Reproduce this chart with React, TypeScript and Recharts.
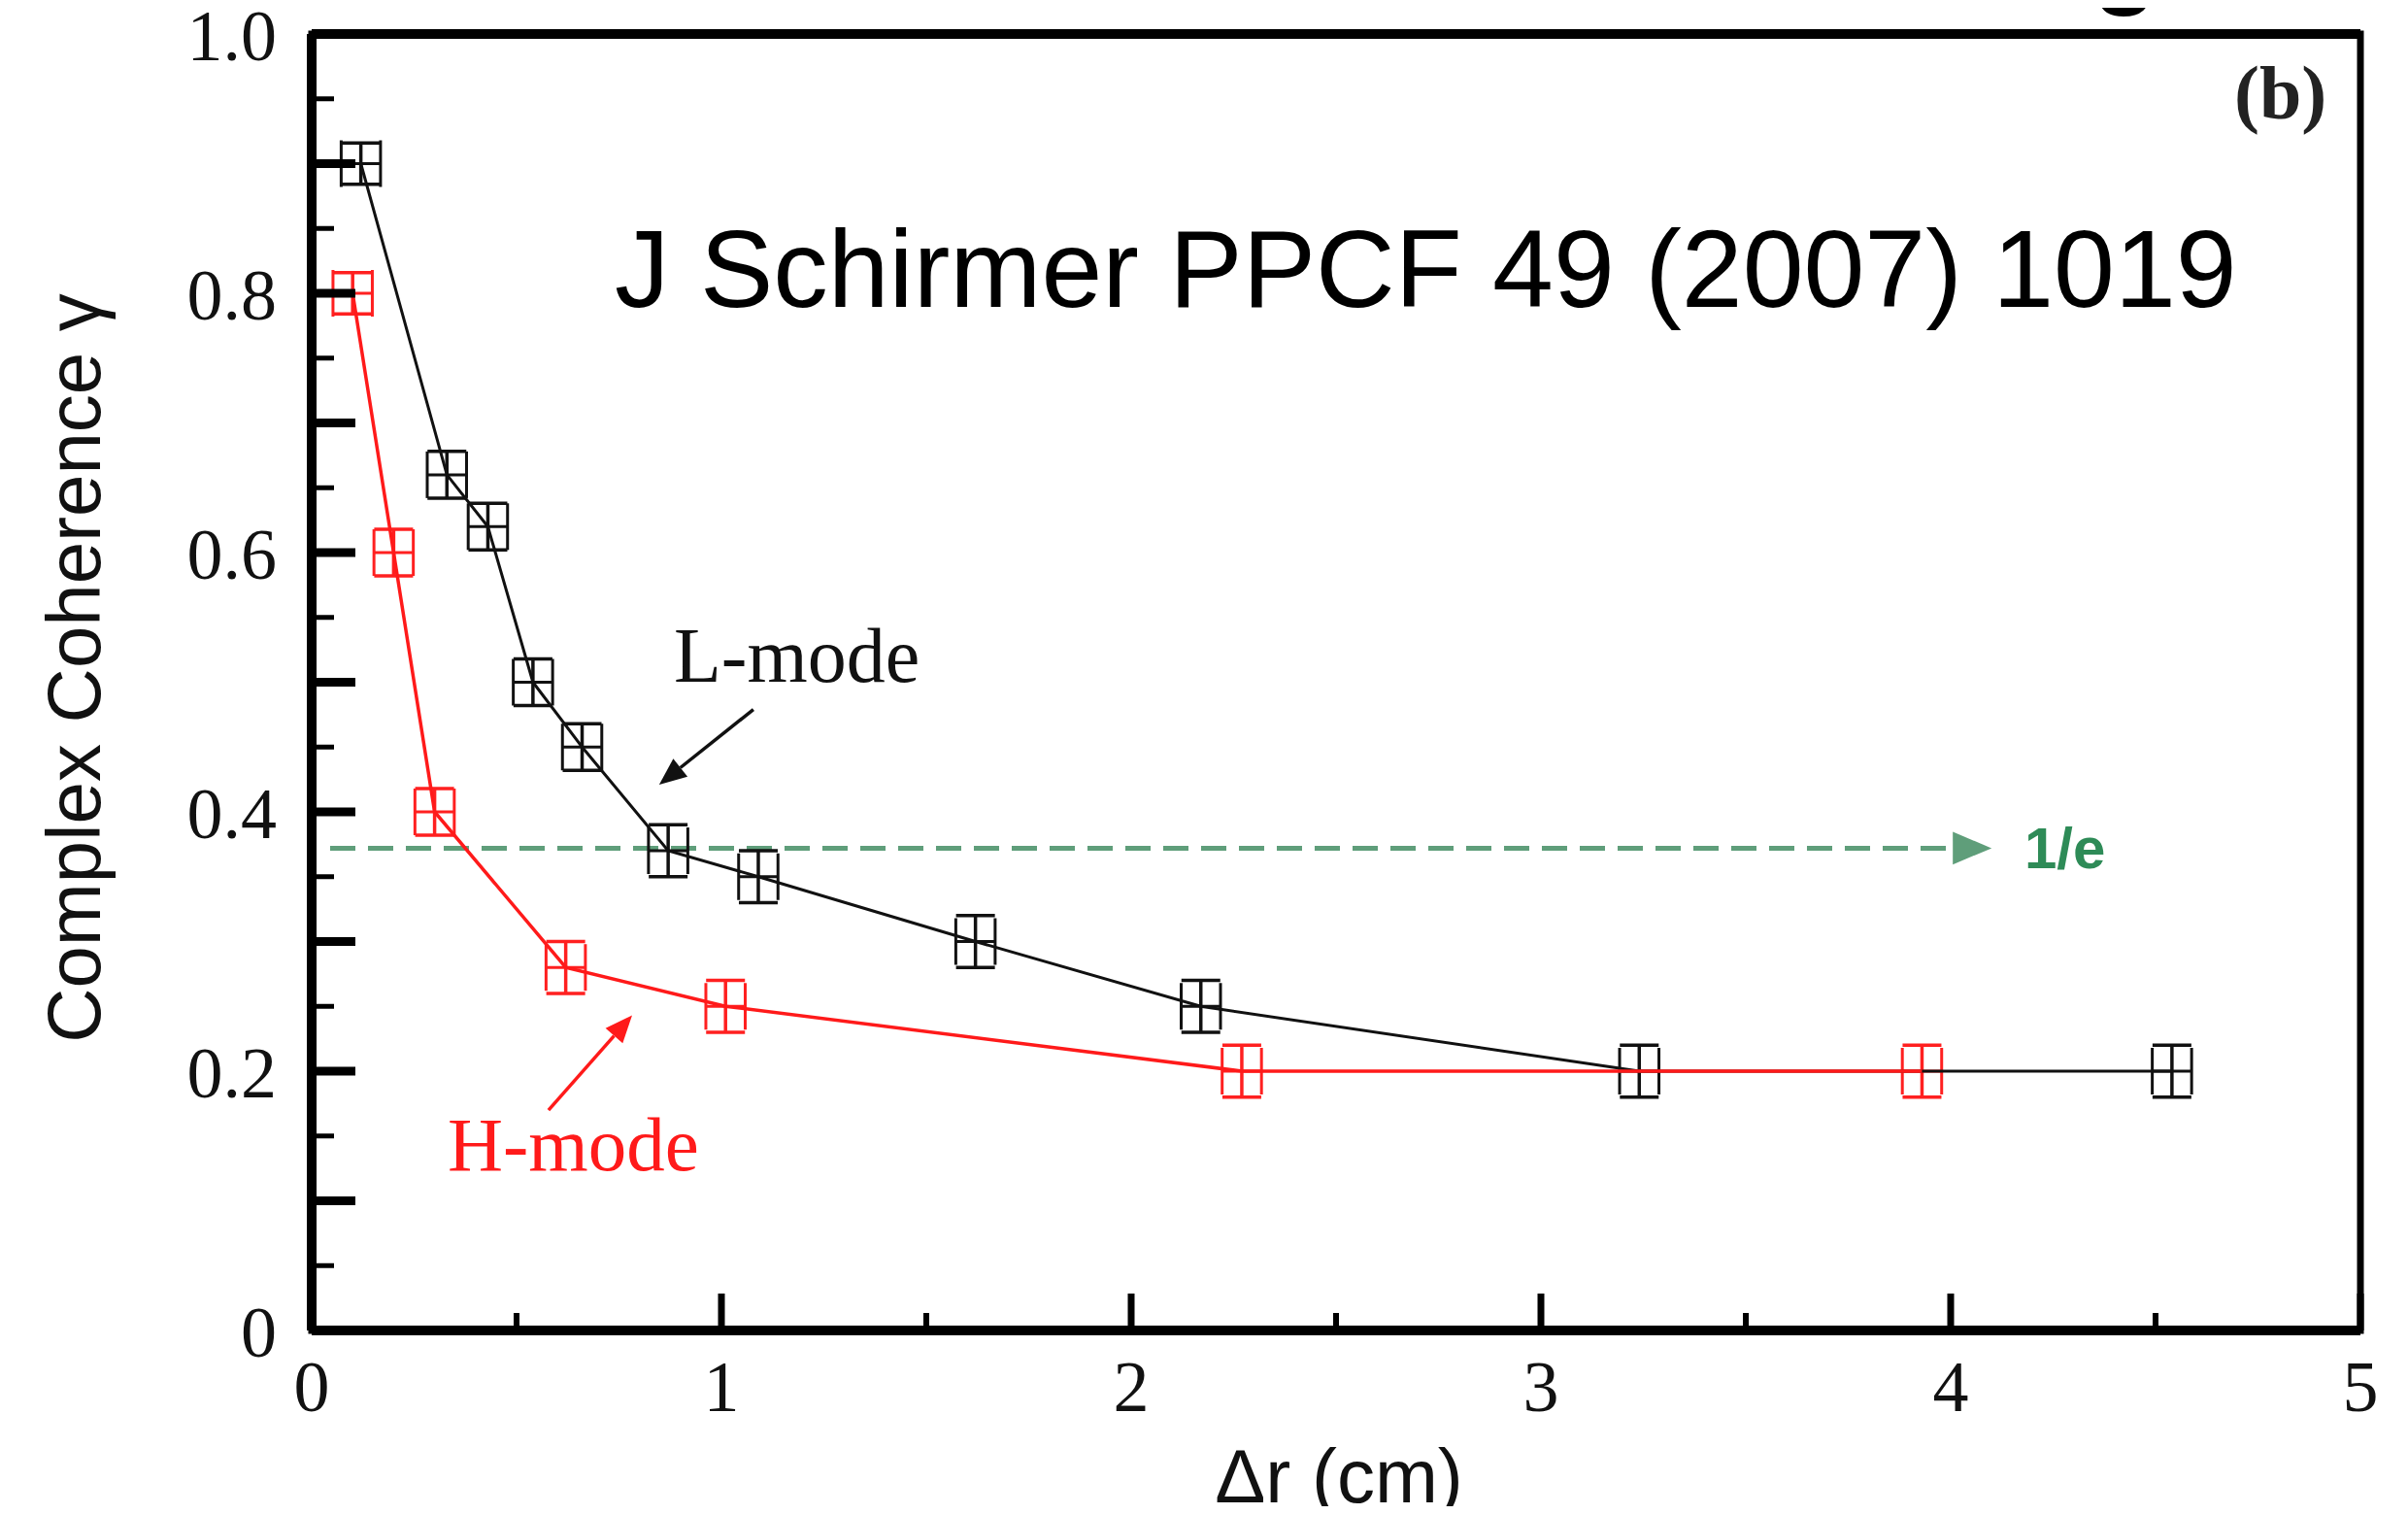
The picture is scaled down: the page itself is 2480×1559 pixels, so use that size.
import { ScatterChart, Scatter, XAxis, YAxis, ErrorBar, ReferenceLine, ReferenceArea } from 'recharts';

// L-mode (black) and H-mode (red) coherence vs separation
const lModeX = [0.12, 0.33, 0.43, 0.54, 0.66, 0.87, 1.09, 1.62, 2.17, 3.24, 4.54];
const lModeY = [0.9, 0.66, 0.62, 0.5, 0.45, 0.37, 0.35, 0.3, 0.25, 0.2, 0.2];
const lModeXErr = [0.048, 0.048, 0.048, 0.048, 0.048, 0.048, 0.048, 0.048, 0.048, 0.048, 0.048];
const lModeYErr = [0.016, 0.018, 0.018, 0.018, 0.018, 0.02, 0.02, 0.02, 0.02, 0.02, 0.02];

const hModeX = [0.1, 0.2, 0.3, 0.62, 1.01, 2.27, 3.93];
const hModeY = [0.8, 0.6, 0.4, 0.28, 0.25, 0.2, 0.2];
const hModeXErr = [0.048, 0.048, 0.048, 0.048, 0.048, 0.048, 0.048];
const hModeYErr = [0.016, 0.018, 0.018, 0.02, 0.02, 0.02, 0.02];

const oneOverE = 0.372;
const eLineStart = 0.045;
const eLineEnd = 4.1;

const xTicks = [0, 0.5, 1, 1.5, 2, 2.5, 3, 3.5, 4, 4.5, 5];
const xLabels = [0, 1, 2, 3, 4, 5];
const yTicks = [0, 0.05, 0.1, 0.15, 0.2, 0.25, 0.3, 0.35, 0.4, 0.45, 0.5, 0.55, 0.6, 0.65, 0.7, 0.75, 0.8, 0.85, 0.9, 0.95, 1];
const yLabels = [0, 0.2, 0.4, 0.6, 0.8, 1];

// annotation arrows: [tail, head]
const lArrow = [{ x: 1.078, y: 0.479 }, { x: 0.848, y: 0.421 }];
const hArrow = [{ x: 0.578, y: 0.17 }, { x: 0.782, y: 0.243 }];

const lMode = lModeX.map((x, i) => ({ x, y: lModeY[i], xErr: lModeXErr[i], yErr: lModeYErr[i] }));
const hMode = hModeX.map((x, i) => ({ x, y: hModeY[i], xErr: hModeXErr[i], yErr: hModeYErr[i] }));

const W = 2464;
const H = 1543;
const SERIF = '"Liberation Serif", "Times New Roman", serif';
const SANS = '"Liberation Sans", Arial, sans-serif';
const X_MARGIN = 30;
const Y_MARGIN = 36;

const near = (a: number, list: number[]) => list.some((b) => Math.abs(a - b) < 1e-6);

const XTick = (props: any) => {
  const { x, y, payload } = props;
  const v = payload.value;
  const base = y - X_MARGIN;
  const major = Number.isInteger(Math.round(v * 1000) / 1000);
  return (
    <g>
      <line x1={x} y1={base} x2={x} y2={base - (major ? 38 : 18)} stroke="#000" strokeWidth={major ? 7 : 6} />
      {near(v, xLabels) && (
        <text x={x} y={y} dy="0.71em" textAnchor="middle" fontFamily={SERIF} fontSize={74} fill="#111">
          {v}
        </text>
      )}
    </g>
  );
};

const YTick = (props: any) => {
  const { x, y, payload } = props;
  const v = payload.value;
  const base = x + Y_MARGIN;
  const major = Math.abs(Math.round(v * 10) - v * 10) < 1e-6;
  return (
    <g>
      <line x1={base} y1={y} x2={base + (major ? 45 : 23)} y2={y} stroke="#000" strokeWidth={major ? 9 : 5} />
      {near(v, yLabels) && (
        <text x={x} y={y} dy="0.36em" textAnchor="end" fontFamily={SERIF} fontSize={74} fill="#111">
          {v === 0 ? '0' : v.toFixed(1)}
        </text>
      )}
    </g>
  );
};

const arrowShape = (color: string, width: number, head: number, dash?: string) => (p: any) => {
  const { x1, y1, x2, y2 } = p;
  const a = Math.atan2(y2 - y1, x2 - x1);
  const bx = x2 - head * Math.cos(a);
  const by = y2 - head * Math.sin(a);
  const hw = head * 0.42;
  const pts = `${x2},${y2} ${bx + hw * Math.sin(a)},${by - hw * Math.cos(a)} ${bx - hw * Math.sin(a)},${by + hw * Math.cos(a)}`;
  return (
    <g>
      <line x1={x1} y1={y1} x2={bx} y2={by} stroke={color} strokeWidth={width} strokeDasharray={dash} />
      <polygon points={pts} fill={color} />
    </g>
  );
};

const noDot = () => <g />;

export default function App() {
  return (
    <div style={{ position: 'relative', width: W, height: H }}>
      <ScatterChart width={W} height={H} margin={{ top: 27, right: 41, left: 113, bottom: 61 }}>
        <XAxis
          type="number"
          dataKey="x"
          domain={[0, 5]}
          ticks={xTicks}
          interval={0}
          height={120}
          tickSize={0}
          tickMargin={X_MARGIN}
          tick={<XTick />}
          axisLine={{ stroke: '#000', strokeWidth: 10 }}
          allowDataOverflow
        />
        <YAxis
          type="number"
          dataKey="y"
          domain={[0, 1]}
          ticks={yTicks}
          interval={0}
          width={200}
          tickSize={0}
          tickMargin={Y_MARGIN}
          tick={<YTick />}
          axisLine={{ stroke: '#000', strokeWidth: 10 }}
          allowDataOverflow
        />
        <ReferenceArea x1={0} x2={5} y1={0} y2={1} fill="none" stroke="#000" strokeWidth={7} />
        <ReferenceLine y={1} stroke="#000" strokeWidth={10} />
        <ReferenceLine
          segment={[{ x: eLineStart, y: oneOverE }, { x: eLineEnd, y: oneOverE }]}
          shape={arrowShape('#5f9e7a', 5, 40, '26 13')}
        />
        <ReferenceLine segment={lArrow} shape={arrowShape('#111', 3.5, 28)} />
        <ReferenceLine segment={hArrow} shape={arrowShape('#ff1a1a', 3.5, 28)} />
        <Scatter
          data={lMode}
          line={{ stroke: '#111', strokeWidth: 3 }}
          lineType="joint"
          shape={noDot}
          isAnimationActive={false}
        >
          <ErrorBar dataKey="yErr" direction="y" width={20} stroke="#111" strokeWidth={3.5} />
          <ErrorBar dataKey="xErr" direction="x" width={24} stroke="#111" strokeWidth={3} />
        </Scatter>
        <Scatter
          data={hMode}
          line={{ stroke: '#ff1a1a', strokeWidth: 3.5 }}
          lineType="joint"
          shape={noDot}
          isAnimationActive={false}
        >
          <ErrorBar dataKey="yErr" direction="y" width={20} stroke="#ff2020" strokeWidth={3.5} />
          <ErrorBar dataKey="xErr" direction="x" width={24} stroke="#ff2020" strokeWidth={3} />
        </Scatter>
      </ScatterChart>
      <svg
        width={W}
        height={H}
        style={{ position: 'absolute', left: 0, top: 0, overflow: 'visible', pointerEvents: 'none' }}
      >
        <text x={2147} y={-14} fontFamily={SANS} fontWeight="bold" fontSize={110} fill="#000">g</text>
        <text x={2293} y={114} fontFamily={SERIF} fontWeight="bold" fontSize={78} fill="#222">(b)</text>
        <text x={625} y={308} fontFamily={SANS} fontSize={113} fill="#000">J Schirmer PPCF 49 (2007) 1019</text>
        <text x={686} y={694} fontFamily={SERIF} fontSize={80} fill="#111">L-mode</text>
        <text x={453} y={1197} fontFamily={SERIF} fontSize={79} fill="#ff1a1a">H-mode</text>
        <text x={2077} y={886} fontFamily={SANS} fontWeight="bold" fontSize={60} fill="#2e8b57">1/e</text>
        <text x={1371} y={1539} textAnchor="middle" fontFamily={SANS} fontSize={78} fill="#111">Δr (cm)</text>
        <text
          x={95}
          y={680}
          transform="rotate(-90 95 680)"
          textAnchor="middle"
          fontFamily={SANS}
          fontSize={78}
          fill="#111"
        >
          Complex Coherence γ
        </text>
      </svg>
    </div>
  );
}
